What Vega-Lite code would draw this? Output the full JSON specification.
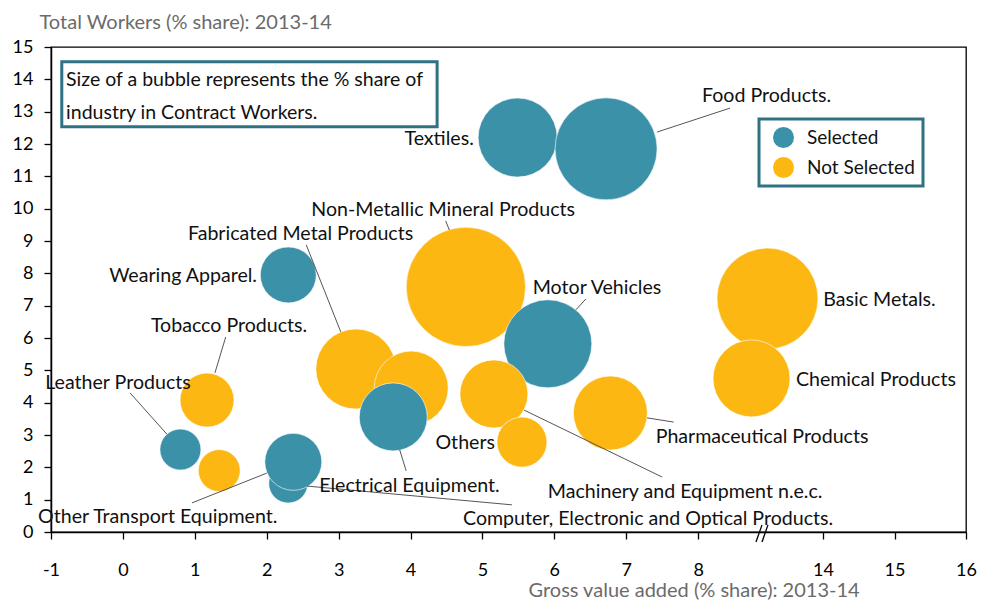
{
  "$schema": "https://vega.github.io/schema/vega-lite/v6.json",
  "width": 915,
  "height": 485,
  "autosize": {"type": "none"},
  "padding": {"left": 51, "top": 47, "right": 16, "bottom": 71},
  "config": {
    "font": "Lato",
    "view": {"stroke": "#000", "strokeWidth": 1.3},
    "axis": {
      "grid": false,
      "domainColor": "#000",
      "domainWidth": 1.5,
      "tickColor": "#000",
      "tickWidth": 1.3,
      "tickSize": 7,
      "labelFont": "Lato",
      "labelFontSize": 18,
      "labelColor": "#000",
      "labelOverlap": false,
      "titleFont": "Lato",
      "titleFontSize": 20,
      "titleFontWeight": "normal",
      "titleColor": "#6b6b6b"
    },
    "legend": {"strokeWidth": 3},
    "text": {"font": "Lato", "fontSize": 19.6, "color": "#111"}
  },
  "datasets": {
    "bubbles": [
      {"industry": "Non-Metallic Mineral Products", "gva": 4.77, "workers": 7.58, "contract": 14.5, "status": "Not Selected"},
      {"industry": "Fabricated Metal Products", "gva": 3.24, "workers": 5.04, "contract": 6.52, "status": "Not Selected"},
      {"industry": "(unlabelled A)", "gva": 4.01, "workers": 4.45, "contract": 5.58, "status": "Not Selected"},
      {"industry": "Electrical Equipment", "gva": 3.76, "workers": 3.56, "contract": 4.71, "status": "Selected"},
      {"industry": "Motor Vehicles", "gva": 5.91, "workers": 5.82, "contract": 7.89, "status": "Selected"},
      {"industry": "Machinery and Equipment n.e.c.", "gva": 5.16, "workers": 4.27, "contract": 4.71, "status": "Not Selected"},
      {"industry": "Others", "gva": 5.55, "workers": 2.78, "contract": 2.55, "status": "Not Selected"},
      {"industry": "Pharmaceutical Products", "gva": 6.78, "workers": 3.68, "contract": 5.58, "status": "Not Selected"},
      {"industry": "Textiles", "gva": 5.49, "workers": 12.2, "contract": 6.36, "status": "Selected"},
      {"industry": "Food Products", "gva": 6.72, "workers": 11.85, "contract": 10.6, "status": "Selected"},
      {"industry": "Basic Metals", "gva": 8.965, "workers": 7.22, "contract": 10.39, "status": "Not Selected"},
      {"industry": "Chemical Products", "gva": 8.743, "workers": 4.75, "contract": 6.04, "status": "Not Selected"},
      {"industry": "Wearing Apparel", "gva": 2.3, "workers": 7.95, "contract": 3.19, "status": "Selected"},
      {"industry": "Tobacco Products", "gva": 1.17, "workers": 4.08, "contract": 2.97, "status": "Not Selected"},
      {"industry": "Leather Products", "gva": 0.8, "workers": 2.55, "contract": 1.71, "status": "Selected"},
      {"industry": "(unlabelled B)", "gva": 1.34, "workers": 1.9, "contract": 1.79, "status": "Not Selected"},
      {"industry": "Computer, Electronic and Optical Products", "gva": 2.3, "workers": 1.5, "contract": 1.55, "status": "Selected"},
      {"industry": "Other Transport Equipment", "gva": 2.37, "workers": 2.17, "contract": 3.31, "status": "Selected"}
    ],
    "labels": [
      {"label": "Textiles.", "lx": 4.88, "ly": 12.16},
      {"label": "Food Products.", "lx": 8.054, "ly": 13.49},
      {"label": "Non-Metallic Mineral Products", "lx": 2.62, "ly": 9.96},
      {"label": "Fabricated Metal Products", "lx": 0.905, "ly": 9.22},
      {"label": "Wearing Apparel.", "lx": 1.865, "ly": 7.92},
      {"label": "Motor Vehicles", "lx": 5.7, "ly": 7.55},
      {"label": "Basic Metals.", "lx": 9.74, "ly": 7.18},
      {"label": "Tobacco Products.", "lx": 0.39, "ly": 6.37},
      {"label": "Chemical Products", "lx": 9.36, "ly": 4.7},
      {"label": "Leather Products", "lx": -1.08, "ly": 4.61},
      {"label": "Others", "lx": 5.175, "ly": 2.75},
      {"label": "Pharmaceutical Products", "lx": 7.41, "ly": 2.94},
      {"label": "Electrical Equipment.", "lx": 2.73, "ly": 1.42},
      {"label": "Machinery and Equipment n.e.c.", "lx": 5.91, "ly": 1.24},
      {"label": "Other Transport Equipment.", "lx": -1.18, "ly": 0.46},
      {"label": "Computer, Electronic and Optical Products.", "lx": 4.73, "ly": 0.4}
    ],
    "leaders": [
      {"to": "Food Products", "x1": 7.43, "y1": 12.37, "x2": 8.444, "y2": 13.11},
      {"to": "Non-Metallic Mineral Products", "x1": 4.49, "y1": 9.62, "x2": 4.54, "y2": 9.34},
      {"to": "Fabricated Metal Products", "x1": 2.55, "y1": 8.88, "x2": 3.03, "y2": 6.19},
      {"to": "Motor Vehicles", "x1": 6.44, "y1": 7.21, "x2": 6.3, "y2": 6.87},
      {"to": "Tobacco Products", "x1": 1.43, "y1": 6.03, "x2": 1.28, "y2": 4.92},
      {"to": "Leather Products", "x1": 0.1, "y1": 4.3, "x2": 0.61, "y2": 3.03},
      {"to": "Pharmaceutical Products", "x1": 7.29, "y1": 3.53, "x2": 7.66, "y2": 3.4},
      {"to": "Machinery and Equipment n.e.c.", "x1": 5.58, "y1": 3.77, "x2": 7.5, "y2": 1.7},
      {"to": "Electrical Equipment", "x1": 3.85, "y1": 2.54, "x2": 3.94, "y2": 1.89},
      {"to": "Other Transport Equipment", "x1": 0.96, "y1": 0.9, "x2": 2.0, "y2": 1.82},
      {"to": "Computer, Electronic and Optical Products", "x1": 2.56, "y1": 1.42, "x2": 5.41, "y2": 0.84}
    ],
    "axisbreak": [
      {"x1": 8.805, "y1": -0.31, "x2": 8.889, "y2": 0.22},
      {"x1": 8.889, "y1": -0.31, "x2": 8.972, "y2": 0.22}
    ]
  },
  "layer": [
    {
      "data": {"name": "bubbles"},
      "mark": {"type": "circle", "opacity": 1, "stroke": "#fff", "strokeWidth": 0.6},
      "encoding": {
        "x": {"field": "gva", "type": "quantitative",
          "scale": {"domain": [-1, 11.726], "nice": false, "zero": false},
          "axis": {"values": [-1, 0, 1, 2, 3, 4, 5, 6, 7, 8, 9.737, 10.732, 11.726],
            "tickCount": 30,
            "labelExpr": "datum.value < 0 ? '-1' : datum.value > 11.5 ? '16' : datum.value > 10.5 ? '15' : datum.value > 9.5 ? '14' : format(datum.value, 'd')",
            "labelFlush": false,
            "labelOverlap": false,
            "title": "Gross value added (% share): 2013-14", "titleAlign": "left", "titleX": 477, "titleY": 58, "titleBaseline": "middle", "labelPadding": 22}},
        "y": {"field": "workers", "type": "quantitative",
          "scale": {"domain": [0, 15], "nice": false, "zero": true},
          "axis": {"values": [0, 1, 2, 3, 4, 5, 6, 7, 8, 9, 10, 11, 12, 13, 14, 15],
            "tickCount": 30,
            "labelExpr": "format(datum.value, 'd')",
            "labelOverlap": false,
            "labelFlush": false,
            "title": "Total Workers (% share): 2013-14", "titleAngle": 0, "titleAlign": "left", "titleX": -12, "titleY": -25, "titleBaseline": "middle", "labelPadding": 11}},
        "size": {"field": "contract", "type": "quantitative", "scale": {"domain": [0, 20], "range": [0, 19632], "zero": true}, "legend": null},
        "color": {"field": "status", "type": "nominal", "scale": {"domain": ["Selected", "Not Selected"], "range": ["#3B91A8", "#FDB713"]},
          "legend": {"title": null, "orient": "none", "legendX": 708, "legendY": 72, "labelFont": "Lato", "labelFontSize": 19, "labelColor": "#111", "labelExpr": "datum.label + '\u2002\u2009'", "symbolType": "circle", "symbolSize": 441, "symbolStrokeWidth": 0, "padding": 8, "rowPadding": 9, "symbolOffset": 6, "labelOffset": 13, "strokeColor": "#2F7282", "fillColor": "#fff"}}
      }
    },
    {
      "data": {"values": [{}]},
      "mark": {"type": "rect", "fill": "#fff", "stroke": "#2F7282", "strokeWidth": 3},
      "encoding": {
        "x": {"datum": -0.85, "type": "quantitative"},
        "x2": {"datum": 4.37},
        "y": {"datum": 14.54, "type": "quantitative"},
        "y2": {"datum": 12.53}
      }
    },
    {
      "data": {"values": [{}]},
      "mark": {"type": "text", "align": "left", "baseline": "middle", "lineHeight": 33, "fontSize": 19.5, "text": ["Size of a bubble represents the % share of", "industry in Contract Workers."]},
      "encoding": {
        "x": {"datum": -0.79, "type": "quantitative"},
        "y": {"datum": 13.98, "type": "quantitative"}
      }
    },
    {
      "data": {"name": "leaders"},
      "mark": {"type": "rule", "color": "#555", "strokeWidth": 1},
      "encoding": {
        "x": {"field": "x1", "type": "quantitative"},
        "y": {"field": "y1", "type": "quantitative"},
        "x2": {"field": "x2"},
        "y2": {"field": "y2"}
      }
    },
    {
      "data": {"name": "labels"},
      "transform": [{"filter": {"not": {"field": "label", "oneOf": ["Textiles.", "Wearing Apparel.", "Others"]}}}],
      "mark": {"type": "text", "align": "left", "baseline": "middle"},
      "encoding": {
        "x": {"field": "lx", "type": "quantitative"},
        "y": {"field": "ly", "type": "quantitative"},
        "text": {"field": "label"}
      }
    },
    {
      "data": {"name": "labels"},
      "transform": [{"filter": {"field": "label", "oneOf": ["Textiles.", "Wearing Apparel.", "Others"]}}],
      "mark": {"type": "text", "align": "right", "baseline": "middle"},
      "encoding": {
        "x": {"field": "lx", "type": "quantitative"},
        "y": {"field": "ly", "type": "quantitative"},
        "text": {"field": "label"}
      }
    },
    {
      "data": {"name": "axisbreak"},
      "mark": {"type": "rule", "color": "#000", "strokeWidth": 1.3, "clip": false},
      "encoding": {
        "x": {"field": "x1", "type": "quantitative"},
        "y": {"field": "y1", "type": "quantitative"},
        "x2": {"field": "x2"},
        "y2": {"field": "y2"}
      }
    }
  ]
}
